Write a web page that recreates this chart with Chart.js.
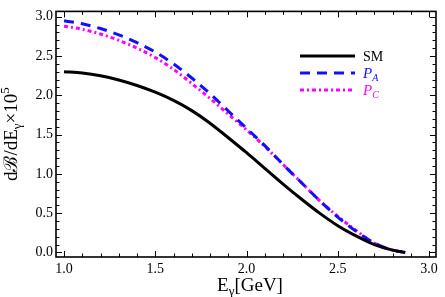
<!DOCTYPE html>
<html>
<head>
<meta charset="utf-8">
<script src="https://cdn.jsdelivr.net/npm/chart.js@4.4.0/dist/chart.umd.min.js"></script>
<style>
    html, body { margin: 0; padding: 0; background: #fff; }
    #wrap { width: 445px; height: 297px; }
</style>
</head>
<body>
<div id="wrap"><canvas id="myChart" width="445" height="297"></canvas></div>
<script>
// photon energy grid (GeV)
const energies = [1.0, 1.1, 1.2, 1.3, 1.4, 1.5, 1.6, 1.7, 1.8, 1.9, 2.0, 2.1, 2.2, 2.3, 2.4, 2.5, 2.6, 2.7, 2.8, 2.87];
// dB/dE x 10^5
const smValues = [2.30, 2.285, 2.25, 2.195, 2.125, 2.04, 1.935, 1.805, 1.645, 1.46, 1.27, 1.07, 0.87, 0.68, 0.50, 0.34, 0.21, 0.10, 0.03, 0.0];
const paValues = [2.95, 2.91, 2.85, 2.77, 2.67, 2.55, 2.40, 2.22, 2.02, 1.80, 1.58, 1.36, 1.12, 0.89, 0.66, 0.45, 0.27, 0.12, 0.03, 0.0];
const pcValues = [2.88, 2.84, 2.78, 2.70, 2.60, 2.48, 2.33, 2.15, 1.96, 1.76, 1.56, 1.35, 1.12, 0.89, 0.66, 0.46, 0.28, 0.12, 0.03, 0.0];

const xTickValues = [1.0, 1.5, 2.0, 2.5, 3.0];
const yTickValues = [0.0, 0.5, 1.0, 1.5, 2.0, 2.5, 3.0];

const serif = '"Liberation Serif", "Times New Roman", serif';

function pairs(values) {
    return energies.map((e, i) => ({ x: e, y: values[i] }));
}

// draw a run of text pieces (with sub/superscripts) starting at x, baseline y
function pieceWidth(ctx, pieces) {
    let w = 0;
    pieces.forEach(p => {
        ctx.font = (p.italic ? 'italic ' : '') + p.size + 'px ' + serif;
        w += ctx.measureText(p.text).width;
    });
    return w;
}
function drawPieces(ctx, x, y, pieces, color) {
    ctx.fillStyle = color;
    ctx.textBaseline = 'alphabetic';
    ctx.textAlign = 'left';
    pieces.forEach(p => {
        ctx.font = (p.italic ? 'italic ' : '') + p.size + 'px ' + serif;
        ctx.fillText(p.text, x, y + (p.dy || 0));
        x += ctx.measureText(p.text).width;
    });
}

const decorPlugin = {
    id: 'decor',
    afterDraw(chart) {
        const ctx = chart.ctx;
        const a = chart.chartArea;
        const xs = chart.scales.x;
        const ys = chart.scales.y;
        ctx.save();

        // inward ticks on all four sides
        ctx.strokeStyle = '#000';
        ctx.lineWidth = 1;
        ctx.beginPath();
        for (let i = 10; i <= 30; i++) {
            const v = i / 10;
            const px = Math.round(xs.getPixelForValue(v)) + 0.5;
            const len = (i % 5 === 0) ? 6 : 3.5;
            ctx.moveTo(px, a.bottom); ctx.lineTo(px, a.bottom - len);
            ctx.moveTo(px, a.top); ctx.lineTo(px, a.top + len);
        }
        for (let i = 0; i <= 30; i++) {
            const v = i / 10;
            const py = Math.round(ys.getPixelForValue(v)) + 0.5;
            const len = (i % 5 === 0) ? 6 : 3.5;
            ctx.moveTo(a.left, py); ctx.lineTo(a.left + len, py);
            ctx.moveTo(a.right, py); ctx.lineTo(a.right - len, py);
        }
        ctx.stroke();

        // frame
        ctx.lineWidth = 1.6;
        ctx.strokeRect(a.left, a.top, a.right - a.left, a.bottom - a.top);

        // x axis title: E_gamma[GeV]
        const xt = [
            { text: 'E', size: 19 },
            { text: 'γ', size: 13, dy: 4 },
            { text: '[GeV]', size: 19 }
        ];
        const xw = pieceWidth(ctx, xt);
        drawPieces(ctx, (a.left + a.right) / 2 - xw / 2 + 4, 291, xt, '#000');

        // y axis title: dB/dE_gamma x 10^5
        const yt = [
            { text: 'dℬ/dE', size: 19 },
            { text: 'γ', size: 13, dy: 4 },
            { text: '×10', size: 19 },
            { text: '5', size: 13, dy: -8 }
        ];
        const yw = pieceWidth(ctx, yt);
        ctx.save();
        ctx.translate(17, (a.top + a.bottom) / 2);
        ctx.rotate(-Math.PI / 2);
        drawPieces(ctx, -yw / 2, 0, yt, '#000');
        ctx.restore();

        // legend
        const lx0 = 300, lx1 = 355, tx = 363;
        const rows = [
            { y: 56, pieces: [{ text: 'SM', size: 14 }] },
            { y: 73, pieces: [{ text: 'P', size: 15, italic: true }, { text: 'A', size: 10, italic: true, dy: 3 }] },
            { y: 90, pieces: [{ text: 'P', size: 15, italic: true }, { text: 'C', size: 10, italic: true, dy: 3 }] }
        ];
        chart.data.datasets.forEach((ds, i) => {
            const r = rows[i];
            ctx.strokeStyle = ds.borderColor;
            ctx.lineWidth = ds.borderWidth;
            ctx.setLineDash(ds.borderDash || []);
            ctx.beginPath();
            ctx.moveTo(lx0, r.y);
            ctx.lineTo(lx1, r.y);
            ctx.stroke();
            ctx.setLineDash([]);
            drawPieces(ctx, tx, r.y + 5, r.pieces, ds.borderColor);
        });

        ctx.restore();
    }
};

new Chart(document.getElementById('myChart').getContext('2d'), {
    type: 'line',
    data: {
        datasets: [{
            label: 'SM',
            data: pairs(smValues),
            borderColor: '#000000',
            borderWidth: 3,
            pointRadius: 0,
            cubicInterpolationMode: 'monotone',
            fill: false
        }, {
            label: 'P_A',
            data: pairs(paValues),
            borderColor: '#1010ff',
            borderWidth: 3,
            borderDash: [10, 7],
            pointRadius: 0,
            cubicInterpolationMode: 'monotone',
            fill: false
        }, {
            label: 'P_C',
            data: pairs(pcValues),
            borderColor: '#ff00ff',
            borderWidth: 3,
            borderDash: [4, 3, 2, 3],
            pointRadius: 0,
            cubicInterpolationMode: 'monotone',
            fill: false
        }]
    },
    options: {
        responsive: false,
        animation: false,
        layout: { padding: { left: 0, right: 9, top: 4, bottom: 0 } },
        plugins: {
            legend: { display: false },
            tooltip: { enabled: false }
        },
        scales: {
            x: {
                type: 'linear',
                min: 0.956,
                max: 3.038,
                grid: { display: false, drawTicks: false },
                border: { display: false },
                afterBuildTicks: (s) => { s.ticks = xTickValues.map(v => ({ value: v })); },
                afterFit: (s) => { s.height = 40; },
                ticks: {
                    padding: 4,
                    color: '#000',
                    maxRotation: 0,
                    font: { family: serif, size: 14 },
                    callback: (v) => Number(v).toFixed(1)
                }
            },
            y: {
                min: -0.058,
                max: 3.068,
                grid: { display: false, drawTicks: false },
                border: { display: false },
                afterBuildTicks: (s) => { s.ticks = yTickValues.map(v => ({ value: v })); },
                afterFit: (s) => { s.width = 56; },
                ticks: {
                    padding: 3,
                    color: '#000',
                    font: { family: serif, size: 14 },
                    callback: (v) => Number(v).toFixed(1)
                }
            }
        }
    },
    plugins: [decorPlugin]
});
</script>
</body>
</html>
